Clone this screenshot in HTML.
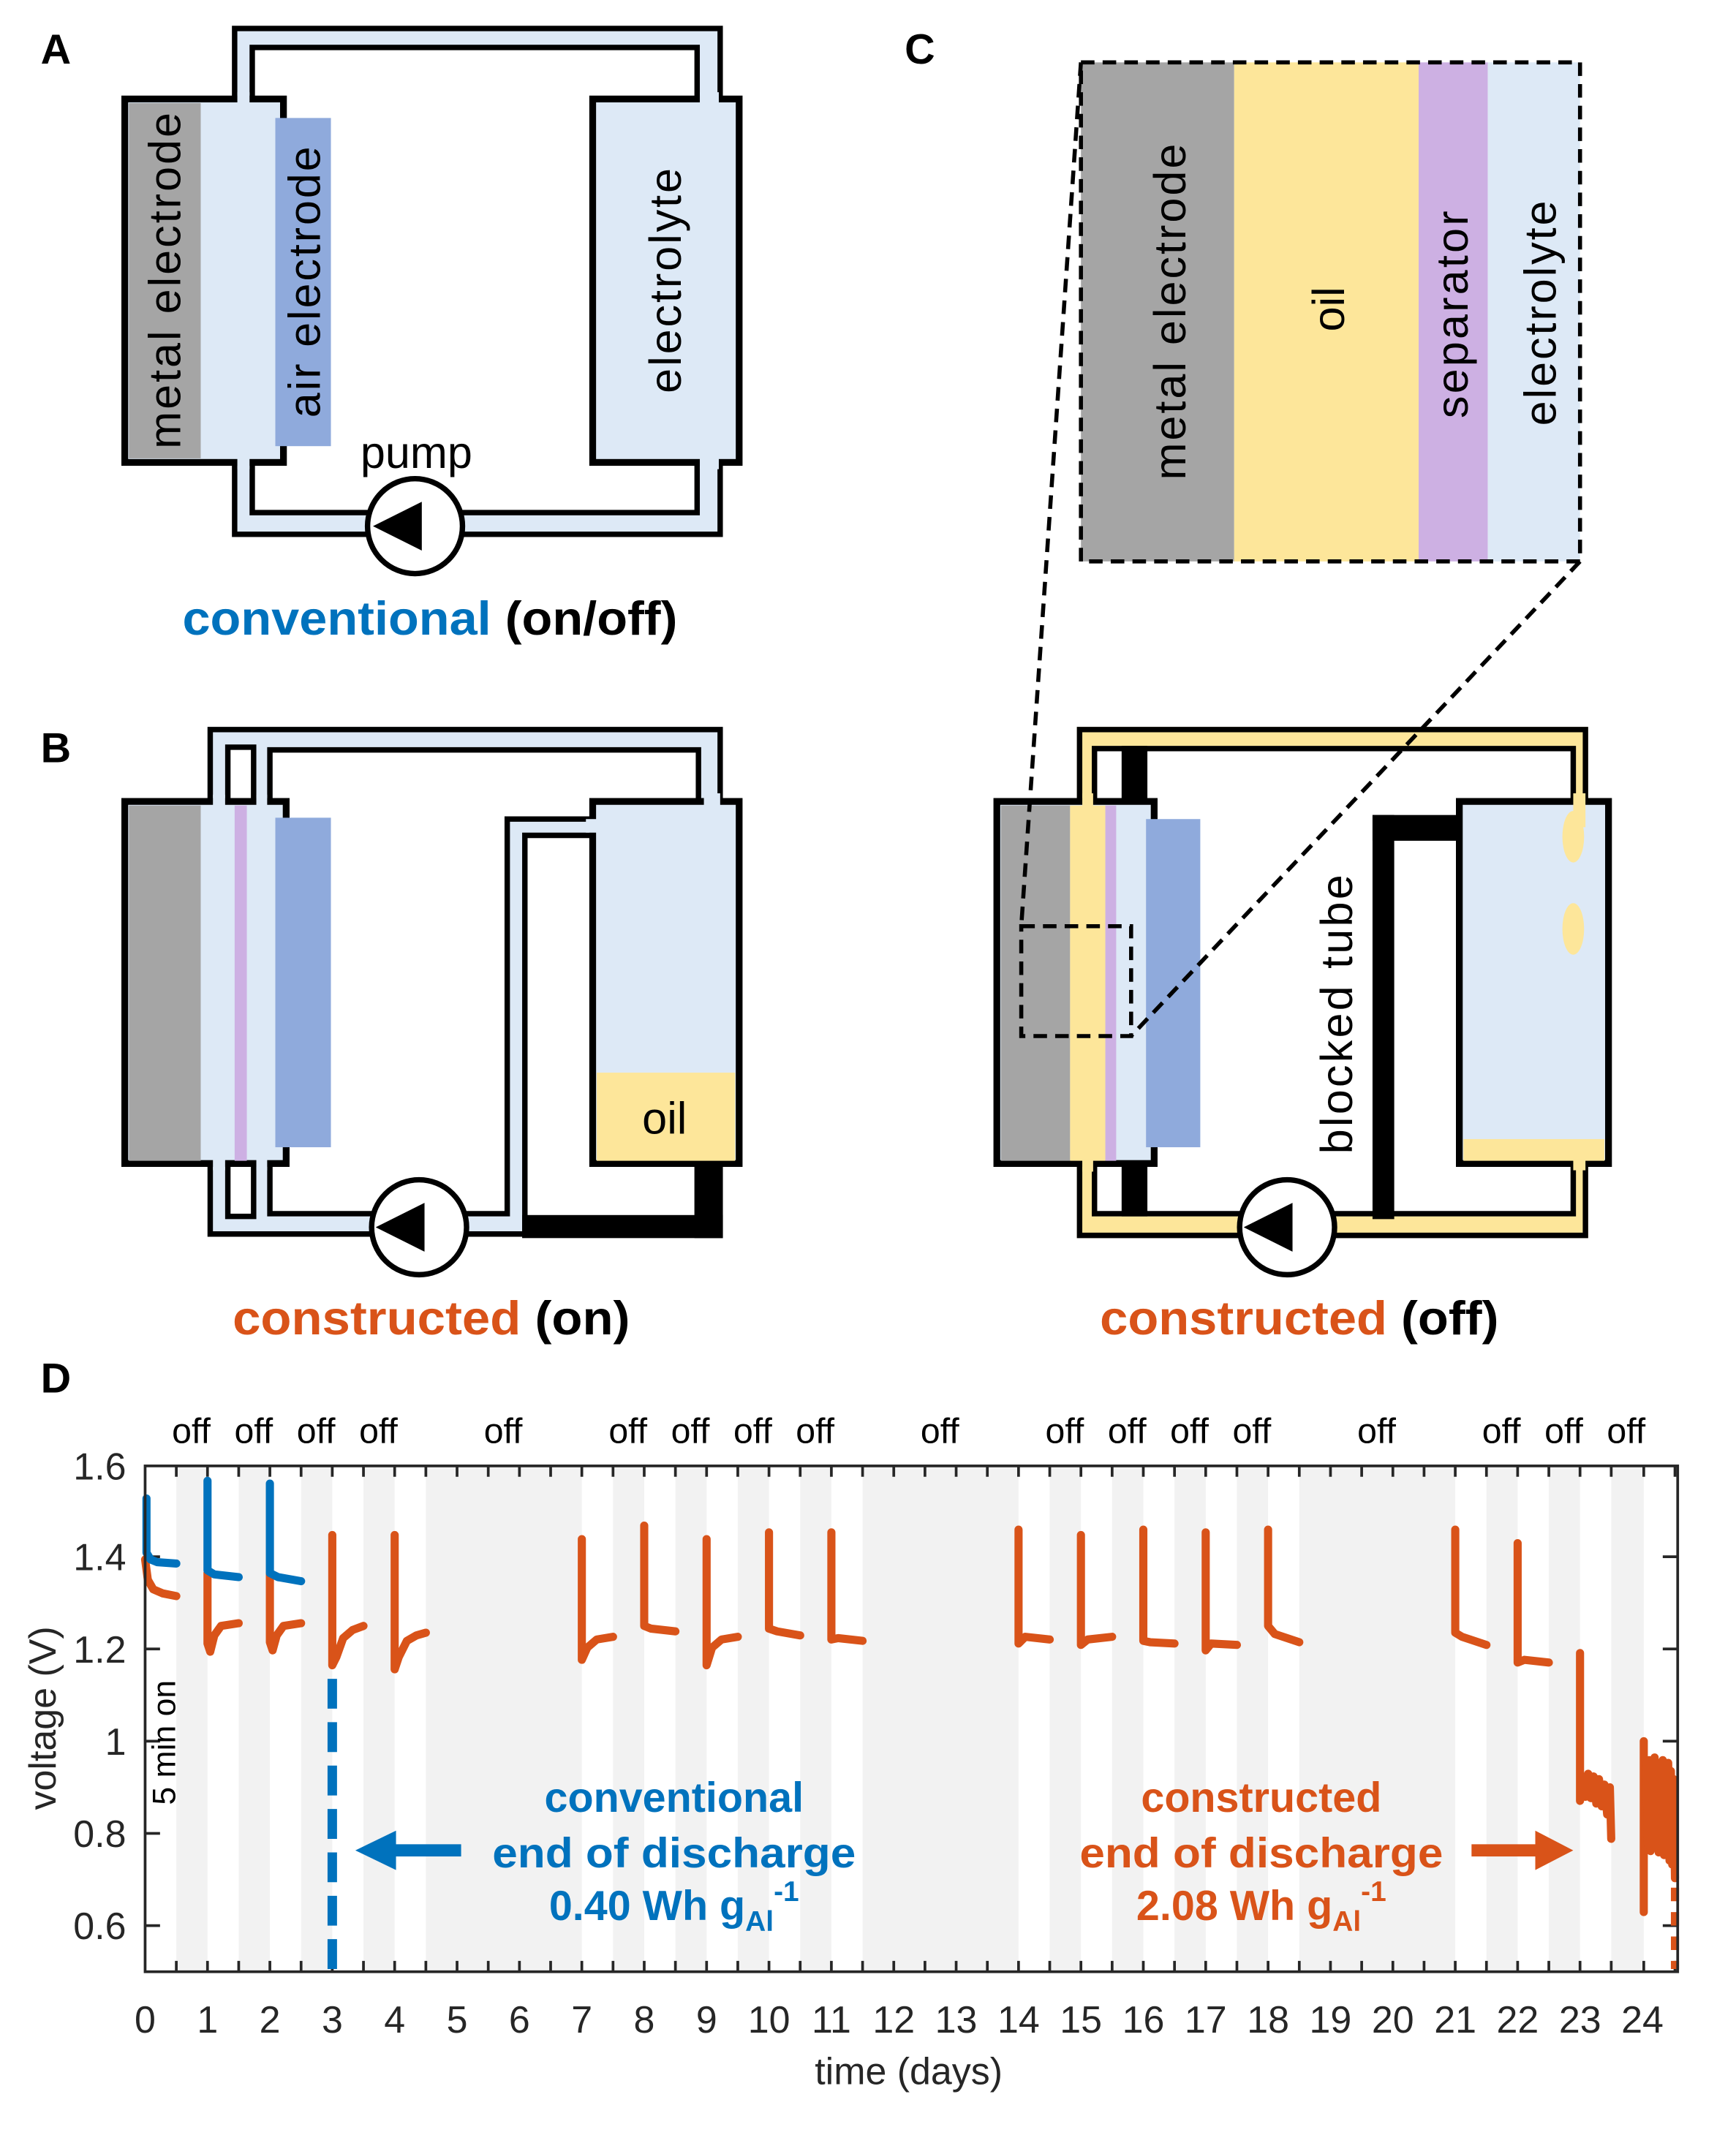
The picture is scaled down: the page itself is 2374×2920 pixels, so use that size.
<!DOCTYPE html>
<html><head><meta charset="utf-8"><style>
html,body{margin:0;padding:0;background:#fff;}
svg{display:block;}
text{font-family:"Liberation Sans",sans-serif;}
</style></head><body>
<svg width="2374" height="2920" viewBox="0 0 1280 1574.4" preserveAspectRatio="none" xmlns="http://www.w3.org/2000/svg">
<rect width="1280" height="1575" fill="#fff"/>
<g font-weight="bold" font-size="31">
<text x="30" y="47">A</text><text x="30" y="562">B</text><text x="667" y="47">C</text><text x="30" y="1027">D</text>
</g>

<!-- ========== PANEL A ========== -->
<rect x="173" y="21" width="358" height="373" fill="#dde9f6" stroke="#000" stroke-width="4"/>
<rect x="186" y="35" width="328" height="343" fill="#fff" stroke="#000" stroke-width="4"/>
<rect x="92" y="73" width="117" height="268" fill="#dde9f6" stroke="#000" stroke-width="5"/>
<rect x="95" y="76" width="53" height="262" fill="#a5a5a5"/>
<rect x="175" y="68" width="9" height="11" fill="#dde9f6"/>
<rect x="175" y="335" width="9" height="11" fill="#dde9f6"/>
<rect x="203" y="87" width="41" height="242" fill="#8faadc"/>
<rect x="437" y="73" width="108" height="268" fill="#dde9f6" stroke="#000" stroke-width="5"/>
<rect x="516" y="68" width="14" height="11" fill="#dde9f6"/>
<rect x="516" y="335" width="14" height="11" fill="#dde9f6"/>
<text transform="translate(133,207) rotate(-90)" font-size="33" text-anchor="middle" textLength="248">metal electrode</text>
<text transform="translate(236,208) rotate(-90)" font-size="33" text-anchor="middle" textLength="200">air electrode</text>
<text transform="translate(502,207) rotate(-90)" font-size="33" text-anchor="middle" textLength="166">electrolyte</text>
<text x="307" y="345" font-size="33" text-anchor="middle">pump</text>
<circle cx="306" cy="388" r="35" fill="#fff" stroke="#000" stroke-width="4"/>
<polygon points="275,388 311,370 311,406" fill="#000"/>
<text x="317" y="468" font-size="35" font-weight="bold" text-anchor="middle" textLength="365" lengthAdjust="spacingAndGlyphs"><tspan fill="#0072BD">conventional</tspan> (on/off)</text>

<!-- ========== PANEL B ========== -->
<path d="M153,595 V536 H533 V591 H517 V551 H201 V595 Z" fill="#dde9f6"/>
<path d="M155,595 V538 H531 V591" fill="none" stroke="#000" stroke-width="4"/>
<path d="M515,591 V553 H199 V595" fill="none" stroke="#000" stroke-width="4"/>
<path d="M153,858 V912 H387 V616 H438 V602 H372 V897 H201 V858 Z" fill="#dde9f6"/>
<path d="M155,858 V910 H387 V616 H438" fill="none" stroke="#000" stroke-width="4"/>
<path d="M199,858 V895 H374 V604 H438" fill="none" stroke="#000" stroke-width="4"/>
<rect x="385" y="896" width="148" height="17" fill="#000"/>
<rect x="512" y="856" width="21" height="57" fill="#000"/>
<rect x="168" y="551" width="19" height="41" fill="#fff" stroke="#000" stroke-width="4"/>
<rect x="168" y="857" width="19" height="40" fill="#fff" stroke="#000" stroke-width="4"/>
<rect x="92" y="591" width="119" height="267" fill="#dde9f6" stroke="#000" stroke-width="5"/>
<rect x="95" y="594" width="53" height="262" fill="#a5a5a5"/>
<rect x="157" y="586" width="9" height="10" fill="#dde9f6"/>
<rect x="189" y="586" width="8" height="10" fill="#dde9f6"/>
<rect x="157" y="853" width="9" height="10" fill="#dde9f6"/>
<rect x="189" y="853" width="8" height="10" fill="#dde9f6"/>
<rect x="173" y="594" width="9" height="262" fill="#cdb0e3"/>
<rect x="203" y="603" width="41" height="243" fill="#8faadc"/>
<rect x="437" y="591" width="108" height="267" fill="#dde9f6" stroke="#000" stroke-width="5"/>
<rect x="440" y="791" width="102" height="65" fill="#fde69a"/>
<rect x="519" y="585" width="12" height="11" fill="#dde9f6"/>
<rect x="432" y="604" width="10" height="10" fill="#dde9f6"/>
<text x="490" y="836" font-size="33" text-anchor="middle">oil</text>
<circle cx="309" cy="905" r="35" fill="#fff" stroke="#000" stroke-width="4"/>
<polygon points="277,905 313,887 313,923" fill="#000"/>
<text x="318" y="984" font-size="35" font-weight="bold" text-anchor="middle" textLength="293" lengthAdjust="spacingAndGlyphs"><tspan fill="#D95319">constructed</tspan> (on)</text>

<!-- ========== PANEL C top ========== -->
<rect x="797" y="46" width="113" height="368" fill="#a5a5a5"/>
<rect x="910" y="46" width="136" height="368" fill="#fde69a"/>
<rect x="1046" y="46" width="51" height="368" fill="#cdb0e3"/>
<rect x="1097" y="46" width="68" height="368" fill="#dde9f6"/>
<rect x="797" y="46" width="368" height="368" fill="none" stroke="#000" stroke-width="3" stroke-dasharray="10,6"/>
<text transform="translate(874,230) rotate(-90)" font-size="33" text-anchor="middle" textLength="248">metal electrode</text>
<text transform="translate(991,228) rotate(-90)" font-size="33" text-anchor="middle">oil</text>
<text transform="translate(1082,232) rotate(-90)" font-size="33" text-anchor="middle" textLength="153">separator</text>
<text transform="translate(1147,231) rotate(-90)" font-size="33" text-anchor="middle" textLength="166">electrolyte</text>

<!-- ========== PANEL C bottom ========== -->
<path d="M794,590 V536 H1171 V590 H1158 V550 H809 V590 Z" fill="#fde69a"/>
<path d="M796,590 V538 H1169 V590" fill="none" stroke="#000" stroke-width="4"/>
<path d="M807,590 V552 H1160 V590" fill="none" stroke="#000" stroke-width="4"/>
<path d="M794,858 V913 H1171 V858 H1158 V897 H809 V858 Z" fill="#fde69a"/>
<path d="M796,858 V911 H1169 V858" fill="none" stroke="#000" stroke-width="4"/>
<path d="M807,858 V895 H1160 V858" fill="none" stroke="#000" stroke-width="4"/>
<rect x="827" y="550" width="19" height="42" fill="#000"/>
<rect x="827" y="857" width="19" height="40" fill="#000"/>
<rect x="1012" y="601" width="16" height="298" fill="#000"/>
<rect x="1012" y="601" width="66" height="19" fill="#000"/>
<rect x="735" y="591" width="116" height="267" fill="#dde9f6" stroke="#000" stroke-width="5"/>
<rect x="738" y="594" width="51" height="262" fill="#a5a5a5"/>
<rect x="789" y="594" width="26" height="262" fill="#fde69a"/>
<rect x="815" y="594" width="8" height="262" fill="#cdb0e3"/>
<rect x="798" y="585" width="8" height="11" fill="#fde69a"/>
<rect x="798" y="853" width="8" height="11" fill="#fde69a"/>
<rect x="845" y="604" width="40" height="242" fill="#8faadc"/>
<rect x="1076" y="591" width="110" height="267" fill="#dde9f6" stroke="#000" stroke-width="5"/>
<rect x="1079" y="840" width="104" height="16" fill="#fde69a"/>
<rect x="1160" y="585" width="9" height="25" fill="#fde69a"/>
<rect x="1160" y="853" width="9" height="10" fill="#fde69a"/>
<ellipse cx="1160" cy="617" rx="8" ry="19" fill="#fde69a"/>
<ellipse cx="1160" cy="685" rx="8" ry="19" fill="#fde69a"/>
<rect x="753" y="683" width="81" height="81" fill="none" stroke="#000" stroke-width="3" stroke-dasharray="10,6"/>
<line x1="797" y1="46" x2="753" y2="683" stroke="#000" stroke-width="3" stroke-dasharray="10,6"/>
<line x1="1165" y1="414" x2="834" y2="764" stroke="#000" stroke-width="3" stroke-dasharray="10,6"/>
<text transform="translate(997,748) rotate(-90)" font-size="33" text-anchor="middle" textLength="206">blocked tube</text>
<circle cx="949" cy="905" r="35" fill="#fff" stroke="#000" stroke-width="4"/>
<polygon points="917,905 953,887 953,923" fill="#000"/>
<text x="958" y="984" font-size="35" font-weight="bold" text-anchor="middle" textLength="294" lengthAdjust="spacingAndGlyphs"><tspan fill="#D95319">constructed</tspan> (off)</text>

<!-- ========== PANEL D ========== -->
<g fill="#f2f2f2">
<rect x="130" y="1081" width="23" height="373"/>
<rect x="176" y="1081" width="23" height="373"/>
<rect x="222" y="1081" width="23" height="373"/>
<rect x="268" y="1081" width="23" height="373"/>
<rect x="314" y="1081" width="115" height="373"/>
<rect x="452" y="1081" width="23" height="373"/>
<rect x="498" y="1081" width="23" height="373"/>
<rect x="544" y="1081" width="23" height="373"/>
<rect x="590" y="1081" width="23" height="373"/>
<rect x="636" y="1081" width="115" height="373"/>
<rect x="774" y="1081" width="23" height="373"/>
<rect x="820" y="1081" width="23" height="373"/>
<rect x="866" y="1081" width="23" height="373"/>
<rect x="912" y="1081" width="23" height="373"/>
<rect x="958" y="1081" width="115" height="373"/>
<rect x="1096" y="1081" width="23" height="373"/>
<rect x="1142" y="1081" width="23" height="373"/>
<rect x="1188" y="1081" width="24" height="373"/>
</g>
<g font-size="26" text-anchor="middle">
<text x="141" y="1064">off</text><text x="187" y="1064">off</text><text x="233" y="1064">off</text><text x="279" y="1064">off</text>
<text x="371" y="1064">off</text>
<text x="463" y="1064">off</text><text x="509" y="1064">off</text><text x="555" y="1064">off</text><text x="601" y="1064">off</text>
<text x="693" y="1064">off</text>
<text x="785" y="1064">off</text><text x="831" y="1064">off</text><text x="877" y="1064">off</text><text x="923" y="1064">off</text>
<text x="1015" y="1064">off</text>
<text x="1107" y="1064">off</text><text x="1153" y="1064">off</text><text x="1199" y="1064">off</text>
</g>
<g stroke="#262626" stroke-width="2">
<path d="M130,1081v8M153,1081v8M176,1081v8M199,1081v8M222,1081v8M245,1081v8M268,1081v8M291,1081v8M314,1081v8M337,1081v8M360,1081v8M383,1081v8M406,1081v8M429,1081v8M452,1081v8M475,1081v8M498,1081v8M521,1081v8M544,1081v8M567,1081v8M590,1081v8M613,1081v8M636,1081v8M659,1081v8M682,1081v8M705,1081v8M728,1081v8M751,1081v8M774,1081v8M797,1081v8M820,1081v8M843,1081v8M866,1081v8M889,1081v8M912,1081v8M935,1081v8M958,1081v8M981,1081v8M1004,1081v8M1027,1081v8M1050,1081v8M1073,1081v8M1096,1081v8M1119,1081v8M1142,1081v8M1165,1081v8M1188,1081v8M1212,1081v8M1235,1081v8"/>
<path d="M130,1454v-8M153,1454v-8M176,1454v-8M199,1454v-8M222,1454v-8M245,1454v-8M268,1454v-8M291,1454v-8M314,1454v-8M337,1454v-8M360,1454v-8M383,1454v-8M406,1454v-8M429,1454v-8M452,1454v-8M475,1454v-8M498,1454v-8M521,1454v-8M544,1454v-8M567,1454v-8M590,1454v-8M613,1454v-8M636,1454v-8M659,1454v-8M682,1454v-8M705,1454v-8M728,1454v-8M751,1454v-8M774,1454v-8M797,1454v-8M820,1454v-8M843,1454v-8M866,1454v-8M889,1454v-8M912,1454v-8M935,1454v-8M958,1454v-8M981,1454v-8M1004,1454v-8M1027,1454v-8M1050,1454v-8M1073,1454v-8M1096,1454v-8M1119,1454v-8M1142,1454v-8M1165,1454v-8M1188,1454v-8M1212,1454v-8M1235,1454v-8"/>
<path d="M107,1148h11M107,1216h11M107,1284h11M107,1352h11M107,1420h11M1237,1148h-11M1237,1216h-11M1237,1284h-11M1237,1352h-11M1237,1420h-11"/>
</g>
<g fill="none" stroke="#D95319" stroke-width="6" stroke-linejoin="round" stroke-linecap="round">
<polyline points="107,1150 109,1165 113,1172 120,1175 130,1177"/>
<polyline points="153,1160 153,1212 155,1218 158,1206 163,1199 176,1197"/>
<polyline points="199,1160 199,1211 201,1217 204,1206 209,1199 222,1197"/>
<polyline points="245,1132 245,1228 248,1222 253,1208 260,1202 268,1199"/>
<polyline points="291,1132 291,1231 294,1222 300,1210 307,1206 314,1204"/>
<polyline points="429,1135 429,1224 433,1215 440,1209 452,1207"/>
<polyline points="475,1125 475,1199 480,1201 498,1203"/>
<polyline points="521,1135 521,1228 525,1215 532,1209 544,1207"/>
<polyline points="567,1130 567,1201 573,1203 590,1206"/>
<polyline points="613,1130 613,1209 618,1208 636,1210"/>
<polyline points="751,1128 751,1212 756,1207 774,1209"/>
<polyline points="797,1132 797,1213 802,1209 820,1207"/>
<polyline points="843,1128 843,1210 848,1211 866,1212"/>
<polyline points="889,1130 889,1217 893,1212 912,1213"/>
<polyline points="935,1128 935,1199 940,1205 958,1211"/>
<polyline points="1073,1128 1073,1204 1078,1207 1096,1213"/>
<polyline points="1119,1138 1119,1226 1124,1224 1142,1226"/>
<polyline points="1165,1219 1165,1328 1167,1310 1169,1325 1171,1308 1173,1326 1175,1310 1177,1330 1179,1312 1181,1332 1183,1316 1185,1338 1187,1318 1188,1356"/>
<polyline points="1212,1284 1212,1410"/>
<polyline points="1214,1300 1215,1360 1216,1298 1217,1365 1218,1302 1219,1358 1220,1296 1221,1362 1222,1300 1223,1366 1224,1304 1225,1360 1226,1298 1227,1368 1228,1310 1229,1362 1230,1300 1231,1372 1232,1306 1233,1375 1234,1312 1235,1385"/>
<line x1="1235" y1="1392" x2="1235" y2="1452" stroke-dasharray="10,8" stroke-linecap="butt" stroke-width="6"/>
</g>
<g fill="none" stroke="#0072BD" stroke-width="6" stroke-linejoin="round" stroke-linecap="round">
<polyline points="108,1105 108,1145 111,1150 116,1152 130,1153"/>
<polyline points="153,1092 153,1158 158,1161 176,1163"/>
<polyline points="199,1094 199,1160 205,1163 222,1166"/>
</g>
<line x1="245" y1="1238" x2="245" y2="1454" stroke="#0072BD" stroke-width="7" stroke-dasharray="22,10"/>
<rect x="107" y="1081" width="1130" height="373" fill="none" stroke="#262626" stroke-width="2"/>
<rect x="290" y="1360" width="50" height="9" fill="#0072BD"/>
<polygon points="262,1364.5 292,1350 292,1379" fill="#0072BD"/>
<rect x="1085" y="1360" width="50" height="9" fill="#D95319"/>
<polygon points="1160,1364.5 1132,1350 1132,1379" fill="#D95319"/>
<g font-size="31" font-weight="bold" text-anchor="middle" fill="#0072BD">
<text x="497" y="1336">conventional</text>
<text x="497" y="1377" textLength="268" lengthAdjust="spacingAndGlyphs">end of discharge</text>
<text x="497" y="1416">0.40 Wh g<tspan font-size="21" dy="8">Al</tspan><tspan font-size="21" dy="-22">-1</tspan></text>
</g>
<g font-size="31" font-weight="bold" text-anchor="middle" fill="#D95319">
<text x="930" y="1336">constructed</text>
<text x="930" y="1377" textLength="268" lengthAdjust="spacingAndGlyphs">end of discharge</text>
<text x="930" y="1416">2.08 Wh g<tspan font-size="21" dy="8">Al</tspan><tspan font-size="21" dy="-22">-1</tspan></text>
</g>
<text transform="translate(129,1285) rotate(-90)" font-size="24" text-anchor="middle">5 min on</text>
<g font-size="28" fill="#262626" text-anchor="end">
<text x="93" y="1091">1.6</text><text x="93" y="1158">1.4</text><text x="93" y="1226">1.2</text>
<text x="93" y="1294">1</text><text x="93" y="1362">0.8</text><text x="93" y="1430">0.6</text>
</g>
<g font-size="28" fill="#262626" text-anchor="middle">
<text x="107" y="1499">0</text><text x="153" y="1499">1</text><text x="199" y="1499">2</text><text x="245" y="1499">3</text><text x="291" y="1499">4</text><text x="337" y="1499">5</text><text x="383" y="1499">6</text><text x="429" y="1499">7</text><text x="475" y="1499">8</text><text x="521" y="1499">9</text><text x="567" y="1499">10</text><text x="613" y="1499">11</text><text x="659" y="1499">12</text><text x="705" y="1499">13</text><text x="751" y="1499">14</text><text x="797" y="1499">15</text><text x="843" y="1499">16</text><text x="889" y="1499">17</text><text x="935" y="1499">18</text><text x="981" y="1499">19</text><text x="1027" y="1499">20</text><text x="1073" y="1499">21</text><text x="1119" y="1499">22</text><text x="1165" y="1499">23</text><text x="1211" y="1499">24</text>
<text x="670" y="1537">time (days)</text>
<text transform="translate(41,1267) rotate(-90)">voltage (V)</text>
</g>
</svg>
</body></html>
